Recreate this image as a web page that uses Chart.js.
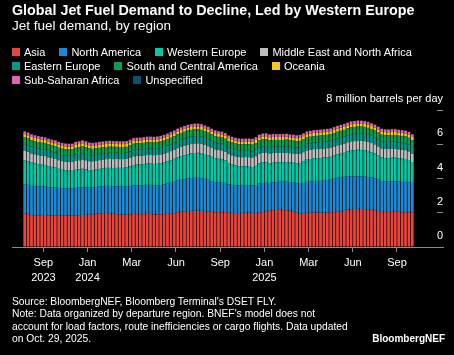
<!DOCTYPE html>
<html><head><meta charset="utf-8">
<script src="https://cdn.jsdelivr.net/npm/chart.js@4.4.1/dist/chart.umd.min.js"></script>
<style>
html,body{margin:0;padding:0;background:#000;}
#wrap{position:relative;width:454px;height:355px;overflow:hidden;font-family:"Liberation Sans",Arial,sans-serif;color:#fff;background:#000;}
canvas{position:absolute;left:0;top:0;}
.t{position:absolute;left:12px;white-space:nowrap;}
#title{top:2px;font-weight:bold;font-size:14.3px;line-height:16px;}
#sub{top:18px;font-size:13.5px;line-height:16px;}
#legend{position:absolute;top:45px;left:12px;width:420px;display:flex;flex-wrap:wrap;font-size:11px;line-height:14px;}
.li{display:flex;align-items:center;margin-right:14px;height:14px;white-space:nowrap;}
.sw{width:8px;height:8px;margin-right:4px;flex:none;}
#note{top:296px;font-size:10.3px;line-height:12.3px;}
#brand{position:absolute;right:9px;top:333px;font-weight:bold;font-size:10px;line-height:12px;}
</style></head>
<body>
<div id="wrap">
<canvas id="c" width="454" height="355"></canvas>
<div class="t" id="title">Global Jet Fuel Demand to Decline, Led by Western Europe</div>
<div class="t" id="sub">Jet fuel demand, by region</div>
<div id="legend"></div>
<div class="t" id="note">Source: BloombergNEF, Bloomberg Terminal's DSET FLY.<br>Note: Data organized by departure region. BNEF's model does not<br>account for load factors, route inefficiencies or cargo flights. Data updated<br>on Oct. 29, 2025.</div>
<div id="brand">BloombergNEF</div>
</div>
<script>
// ---- data (million barrels per day, weekly bars) ----
const regions = ['Asia','North America','Western Europe','Middle East and North Africa','Eastern Europe','South and Central America','Oceania','Sub-Saharan Africa','Unspecified'];

const asia = [1.95,1.92,1.86,1.85,1.85,1.86,1.87,1.84,1.84,1.85,1.83,
1.83,1.83,1.84,1.84,1.85,1.86,1.87,1.88,1.88,1.90,1.95,1.97,1.98,1.99,1.97,1.94,1.92,1.90,1.88,1.88,1.90,1.93,1.92,
1.91,1.92,1.93,1.93,1.91,1.90,1.90,1.91,1.93,1.95,1.98,
2.03,2.06,2.08,2.10,2.11,2.12,2.12,2.11,2.10,2.08,2.05,2.03,
2.02,2.03,2.04,2.00,1.99,1.98,1.98,1.99,2.00,2.00,1.99,1.98,2.02,2.04,2.05,
2.12,2.15,2.16,2.17,2.16,2.15,2.12,2.08,2.02,
1.97,1.98,2.00,2.01,2.02,2.01,2.00,2.00,2.01,2.02,2.04,2.06,2.08,2.10,
2.18,2.21,2.22,2.23,2.22,2.21,2.20,2.18,2.15,2.10,
2.05,2.04,2.04,2.06,2.08,2.05,2.03,2.02,2.02,2.02];

const northAmerica = [1.72,1.71,1.71,1.70,1.69,1.67,1.66,1.65,1.64,1.63,1.62,
1.60,1.59,1.58,1.58,1.60,1.61,1.62,1.60,1.58,1.57,1.55,1.56,
1.57,1.58,1.59,1.60,1.62,1.63,1.64,1.64,1.65,1.66,1.67,
1.68,1.69,1.70,1.70,1.70,1.71,1.72,1.74,1.77,1.80,1.83,
1.85,1.87,1.88,1.90,1.91,1.92,1.92,1.91,1.88,1.84,1.80,1.76,
1.74,1.72,1.70,1.66,1.64,1.63,1.62,1.62,1.62,1.61,1.60,1.64,1.68,1.70,1.70,
1.62,1.62,1.63,1.64,1.65,1.66,1.67,1.68,1.69,
1.72,1.76,1.80,1.82,1.84,1.85,1.86,1.88,1.90,1.93,1.96,1.98,1.99,2.00,
1.95,1.92,1.90,1.90,1.90,1.90,1.89,1.88,1.86,1.84,
1.80,1.78,1.77,1.77,1.76,1.76,1.77,1.78,1.76,1.72];

const westernEurope = [1.40,1.38,1.36,1.33,1.30,1.28,1.26,1.23,1.20,1.16,1.12,
1.08,1.06,1.04,1.03,1.06,1.07,1.08,1.05,1.03,1.02,1.02,1.03,
1.04,1.05,1.06,1.07,1.08,1.09,1.10,1.12,1.16,1.20,1.22,
1.22,1.23,1.24,1.24,1.24,1.25,1.26,1.28,1.30,1.32,1.34,
1.36,1.38,1.40,1.42,1.44,1.45,1.46,1.46,1.45,1.44,1.42,1.40,
1.40,1.38,1.32,1.25,1.20,1.15,1.12,1.10,1.09,1.08,1.08,1.12,1.18,1.20,1.20,
1.16,1.15,1.15,1.14,1.14,1.15,1.15,1.16,1.18,
1.22,1.26,1.30,1.31,1.32,1.33,1.34,1.34,1.33,1.32,1.34,1.36,1.38,1.40,
1.45,1.50,1.53,1.55,1.55,1.54,1.52,1.48,1.45,1.40,
1.38,1.38,1.38,1.38,1.38,1.37,1.36,1.34,1.30,1.22];

const middleEastNorthAfrica = [.54,.54,.53,.53,.52,.52,.52,.51,.51,.51,.50,
.50,.50,.50,.51,.52,.52,.53,.53,.52,.51,.51,.51,
.51,.51,.52,.52,.52,.51,.51,.50,.50,.50,.50,
.50,.50,.50,.50,.51,.51,.52,.52,.52,.53,.53,
.53,.54,.54,.55,.55,.55,.55,.54,.53,.52,.52,.51,
.50,.50,.50,.51,.52,.53,.53,.53,.54,.55,.55,.56,.56,.56,.56,
.56,.56,.55,.55,.55,.55,.54,.54,.54,
.53,.53,.53,.53,.53,.53,.53,.53,.53,.53,.53,.53,.53,.53,
.53,.53,.53,.53,.53,.53,.53,.53,.53,.53,
.53,.53,.53,.53,.52,.52,.52,.51,.50,.48];

const easternEurope = [.40,.40,.40,.39,.39,.38,.38,.38,.37,.37,.36,
.36,.36,.36,.36,.37,.37,.37,.36,.36,.35,.35,.35,
.35,.35,.36,.36,.36,.36,.36,.36,.37,.38,.38,
.38,.38,.38,.38,.38,.39,.39,.39,.40,.40,.41,
.42,.42,.43,.43,.43,.43,.43,.43,.42,.42,.41,.41,
.40,.40,.39,.39,.38,.38,.37,.37,.37,.37,.37,.38,.38,.38,.38,
.37,.37,.37,.37,.37,.38,.38,.38,.38,
.38,.38,.39,.39,.39,.39,.40,.40,.40,.40,.41,.41,.42,.42,
.42,.43,.43,.43,.43,.43,.43,.42,.42,.42,
.41,.41,.41,.41,.41,.41,.41,.41,.41,.41];

const southCentralAmerica = [.39,.39,.38,.38,.38,.38,.38,.38,.37,.37,.37,
.37,.37,.37,.38,.39,.40,.40,.40,.39,.38,.38,.37,
.37,.36,.36,.36,.35,.35,.35,.35,.35,.36,.36,
.36,.36,.36,.36,.36,.36,.37,.37,.37,.38,.38,
.39,.39,.40,.40,.40,.40,.39,.39,.38,.38,.37,.37,
.37,.37,.37,.37,.37,.37,.38,.38,.38,.39,.39,.39,.40,.40,.40,
.40,.40,.39,.38,.38,.38,.37,.37,.37,
.38,.38,.38,.38,.38,.38,.38,.38,.38,.38,.38,.39,.39,.39,
.39,.40,.40,.40,.40,.40,.39,.39,.39,.39,
.39,.39,.39,.39,.39,.39,.39,.39,.39,.39];

const oceania = [.18,.18,.18,.18,.18,.18,.17,.17,.17,.17,.17,
.17,.17,.17,.17,.18,.18,.18,.18,.18,.18,.18,.18,
.18,.18,.18,.17,.17,.17,.17,.17,.17,.17,.17,
.17,.17,.17,.17,.17,.17,.17,.17,.17,.17,.17,
.17,.17,.17,.17,.17,.17,.17,.17,.17,.17,.17,.17,
.17,.17,.17,.17,.17,.17,.17,.17,.17,.17,.17,.18,.18,.18,.18,
.18,.18,.18,.18,.18,.18,.18,.18,.18,
.18,.18,.18,.18,.18,.18,.18,.18,.18,.18,.18,.18,.18,.18,
.18,.18,.18,.18,.18,.18,.18,.18,.18,.18,
.18,.18,.18,.18,.18,.18,.18,.18,.18,.18];

const subSaharanAfrica = [.16,.16,.16,.16,.16,.16,.16,.16,.16,.16,.16,
.16,.16,.16,.16,.16,.16,.17,.17,.16,.16,.16,.16,
.16,.16,.16,.16,.16,.16,.16,.16,.16,.16,.16,
.16,.16,.16,.16,.16,.16,.16,.16,.16,.16,.16,
.16,.16,.16,.16,.16,.16,.16,.16,.16,.16,.16,.16,
.16,.16,.16,.16,.16,.16,.16,.16,.16,.16,.16,.16,.16,.16,.16,
.16,.16,.16,.16,.16,.16,.16,.16,.16,
.16,.16,.16,.16,.16,.16,.16,.16,.16,.16,.16,.16,.16,.16,
.16,.16,.16,.16,.16,.16,.16,.16,.16,.16,
.16,.16,.16,.16,.16,.16,.16,.16,.16,.16];

const unspecified = [.02,.02,.02,.02,.02,.02,.02,.02,.02,.02,.02,
.02,.02,.02,.02,.02,.02,.02,.02,.02,.02,.02,.02,
.02,.02,.02,.02,.02,.02,.02,.02,.02,.02,.02,
.02,.02,.02,.02,.02,.02,.02,.02,.02,.02,.02,
.02,.02,.02,.02,.02,.02,.02,.02,.02,.02,.02,.02,
.02,.02,.02,.02,.02,.02,.02,.02,.02,.02,.02,.02,.02,.02,.02,
.02,.02,.02,.02,.02,.02,.02,.02,.02,
.02,.02,.02,.02,.02,.02,.02,.02,.02,.02,.02,.02,.02,.02,
.02,.02,.02,.02,.02,.02,.02,.02,.02,.02,
.02,.02,.02,.02,.02,.02,.02,.02,.02,.02];

// x-axis tick marks sit on week boundaries (week index - 0.5)
const tickWeeks = [5.5, 18.5, 31.5, 44.5, 57.5, 70.5, 83.5, 96.5, 109.5];
const tickLabels = [['Sep','2023'],['Jan','2024'],'Mar','Jun','Sep',['Jan','2025'],'Mar','Jun','Sep'];
const yTicks = [0, 2, 4, 6, 8];
const yTickLabels = ['0','2','4','6','8 million barrels per day'];

// ---- styles ----
const colors = ['#e8453c','#1a8ad4','#00c9a7','#bdbdbd','#00998a','#0aa04f','#f7c51e','#e365b0','#0b4f6c'];
const axisGray = '#8c8c8c';
const FONT = '"Liberation Sans", Arial, sans-serif';

const values = [asia, northAmerica, westernEurope, middleEastNorthAfrica, easternEurope, southCentralAmerica, oceania, subSaharanAfrica, unspecified];

// legend (HTML)
const lg = document.getElementById('legend');
regions.forEach((r, k) => {
  const d = document.createElement('div'); d.className = 'li';
  const s = document.createElement('span'); s.className = 'sw'; s.style.background = colors[k];
  const t = document.createElement('span'); t.textContent = r;
  d.appendChild(s); d.appendChild(t); lg.appendChild(d);
});

Chart.defaults.font.family = FONT;
new Chart(document.getElementById('c'), {
  type: 'bar',
  data: {
    datasets: regions.map((r, k) => ({
      label: r,
      data: values[k].map((v, i) => ({x: i, y: v})),
      backgroundColor: colors[k],
      borderWidth: 0,
      barPercentage: 0.8,
      categoryPercentage: 1
    }))
  },
  options: {
    responsive: false,
    animation: false,
    devicePixelRatio: 1,
    layout: {padding: {left: 12, right: 11, top: 110, bottom: 68}},
    plugins: {legend: {display: false}, tooltip: {enabled: false}, title: {display: false}},
    scales: {
      x: {
        type: 'linear', stacked: true, offset: false,
        min: -3.735, max: 123.03,
        afterBuildTicks: s => { s.ticks = tickWeeks.map(v => ({value: v})); },
        afterFit: s => { s.height = 40; },
        grid: {drawOnChartArea: false, drawTicks: true, tickLength: 5, color: axisGray, offset: false},
        border: {display: true, color: axisGray, width: 1},
        ticks: {autoSkip: false, maxRotation: 0, minRotation: 0, color: '#fff', padding: 3.5,
          font: {size: 11, lineHeight: 1.36}, callback: (v, i) => tickLabels[i]}
      },
      y: {
        type: 'linear', stacked: true, position: 'right', min: 0, max: 8,
        afterBuildTicks: s => { s.ticks = yTicks.map(v => ({value: v})); },
        afterFit: s => { s.width = 0; },
        grid: {drawOnChartArea: false, drawTicks: true, tickLength: -6, color: axisGray},
        border: {display: false},
        ticks: {mirror: true, padding: 0, labelOffset: -11, color: '#fff',
          font: {size: 11}, callback: (v, i) => yTickLabels[i]}
      }
    }
  }
});
</script>
</body></html>
